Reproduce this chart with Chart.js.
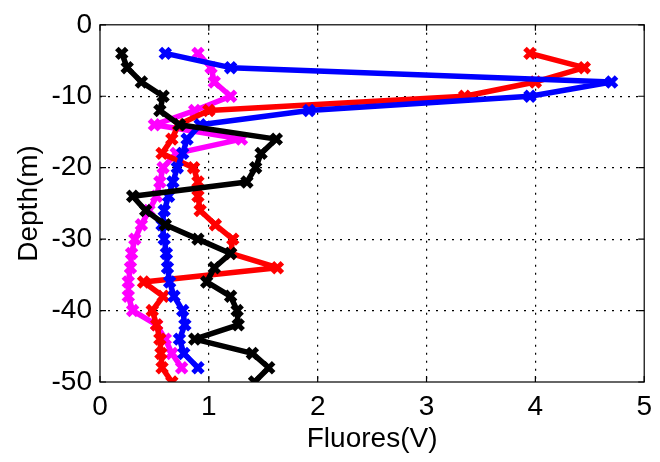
<!DOCTYPE html>
<html>
<head>
<meta charset="utf-8">
<script src="https://cdn.jsdelivr.net/npm/chart.js@4/dist/chart.umd.min.js"></script>
<style>
  html, body { margin: 0; padding: 0; background: #fff; }
  #wrap { width: 660px; height: 462px; }
</style>
</head>
<body>
<div id="wrap"><canvas id="c" width="660" height="462"></canvas></div>
<script>
// Depth (m) of each sample
const depthLong  = [-4,-6,-8,-10,-12,-14,-16,-18,-20,-22,-24,-26,-28,-30,-32,-34,-36,-38,-40,-42,-44,-46,-48,-50];
const depthShort = [-4,-6,-8,-10,-12,-14,-16,-18,-20,-22,-24,-26,-28,-30,-32,-34,-36,-38,-40,-42,-44,-46,-48];

// Fluorescence (V) profiles
const fluorBlack   = [0.20,0.25,0.38,0.58,0.55,0.73,1.62,1.48,1.43,1.35,0.30,0.42,0.60,0.90,1.20,1.05,0.98,1.20,1.26,1.27,0.87,1.40,1.55,1.42];
const fluorBlue    = [0.60,1.20,4.70,3.95,1.92,0.92,0.80,0.76,0.71,0.67,0.63,0.59,0.57,0.59,0.61,0.62,0.64,0.68,0.76,0.78,0.73,0.77,0.90];
const fluorRed     = [3.95,4.45,4.00,3.35,1.00,0.72,0.66,0.57,0.86,0.90,0.90,0.92,1.06,1.22,1.20,1.63,0.40,0.58,0.48,0.52,0.55,0.56,0.57,0.66];
const fluorMagenta = [0.90,1.02,1.05,1.20,0.87,0.50,1.30,0.70,0.58,0.55,0.52,0.45,0.38,0.32,0.29,0.28,0.26,0.26,0.30,0.52,0.60,0.66,0.75];

const xTicks = [0,1,2,3,4,5];
const yTicks = [0,-10,-20,-30,-40,-50];

function pts(xs, ys) { return xs.map((v, i) => ({x: v, y: ys[i]})); }

function profile(color, xs, ys) {
  return {
    data: pts(xs, ys),
    showLine: true,
    borderColor: color,
    backgroundColor: color,
    borderWidth: 5.5,
    borderJoinStyle: 'round',
    borderCapStyle: 'round',
    pointStyle: 'crossRot',
    pointRadius: 7,
    pointBorderWidth: 5,
    pointHoverRadius: 7,
    tension: 0
  };
}

const FONT = 'Liberation Sans, Arial, sans-serif';

// Box outline with inward tick marks on all four sides
const boxPlugin = {
  id: 'box',
  afterDraw(chart) {
    const {ctx, chartArea: a, scales: {x, y}} = chart;
    ctx.save();
    ctx.strokeStyle = '#000';
    ctx.lineWidth = 1.2;
    ctx.strokeRect(a.left, a.top, a.right - a.left, a.bottom - a.top);
    const tl = 6;
    ctx.beginPath();
    xTicks.forEach(v => {
      const px = x.getPixelForValue(v);
      ctx.moveTo(px, a.bottom); ctx.lineTo(px, a.bottom - tl);
      ctx.moveTo(px, a.top);    ctx.lineTo(px, a.top + tl);
    });
    yTicks.forEach(v => {
      const py = y.getPixelForValue(v);
      ctx.moveTo(a.left, py);  ctx.lineTo(a.left + tl, py);
      ctx.moveTo(a.right, py); ctx.lineTo(a.right - tl, py);
    });
    ctx.stroke();
    ctx.restore();
  }
};

const gridColor = (ctx, lo, hi) =>
  (ctx.tick && (ctx.tick.value === lo || ctx.tick.value === hi)) ? 'rgba(0,0,0,0)' : '#000';

new Chart(document.getElementById('c'), {
  type: 'scatter',
  data: {
    datasets: [
      profile('#000000', fluorBlack, depthLong),
      profile('#0000ff', fluorBlue, depthShort),
      profile('#ff0000', fluorRed, depthLong),
      profile('#ff00ff', fluorMagenta, depthShort)
    ]
  },
  options: {
    responsive: false,
    animation: false,
    layout: { padding: { top: 19, right: 10, left: 0, bottom: 0 } },
    plugins: { legend: { display: false }, tooltip: { enabled: false } },
    scales: {
      x: {
        type: 'linear', min: 0, max: 5,
        afterFit(s) { s.height = 80; },
        afterBuildTicks(s) { s.ticks = xTicks.map(v => ({value: v})); },
        ticks: { color: '#000', font: { family: FONT, size: 28 }, padding: 8 },
        grid: { drawTicks: false, color: c => gridColor(c, 0, 5), lineWidth: 1.2 },
        border: { display: false, dash: [2, 6] },
        title: { display: true, text: 'Fluores(V)', color: '#000',
                 font: { family: FONT, size: 28 }, padding: { top: 0, bottom: 6 } }
      },
      y: {
        type: 'linear', min: -50, max: 0,
        afterFit(s) { s.width = 100; },
        afterBuildTicks(s) { s.ticks = yTicks.map(v => ({value: v})); },
        ticks: { color: '#000', font: { family: FONT, size: 28 }, padding: 8 },
        grid: { drawTicks: false, color: c => gridColor(c, -50, 0), lineWidth: 1.2 },
        border: { display: false, dash: [2, 6] },
        title: { display: true, text: 'Depth(m)', color: '#000',
                 font: { family: FONT, size: 28 }, padding: { top: 12, bottom: 0 } }
      }
    }
  },
  plugins: [boxPlugin]
});
</script>
</body>
</html>
